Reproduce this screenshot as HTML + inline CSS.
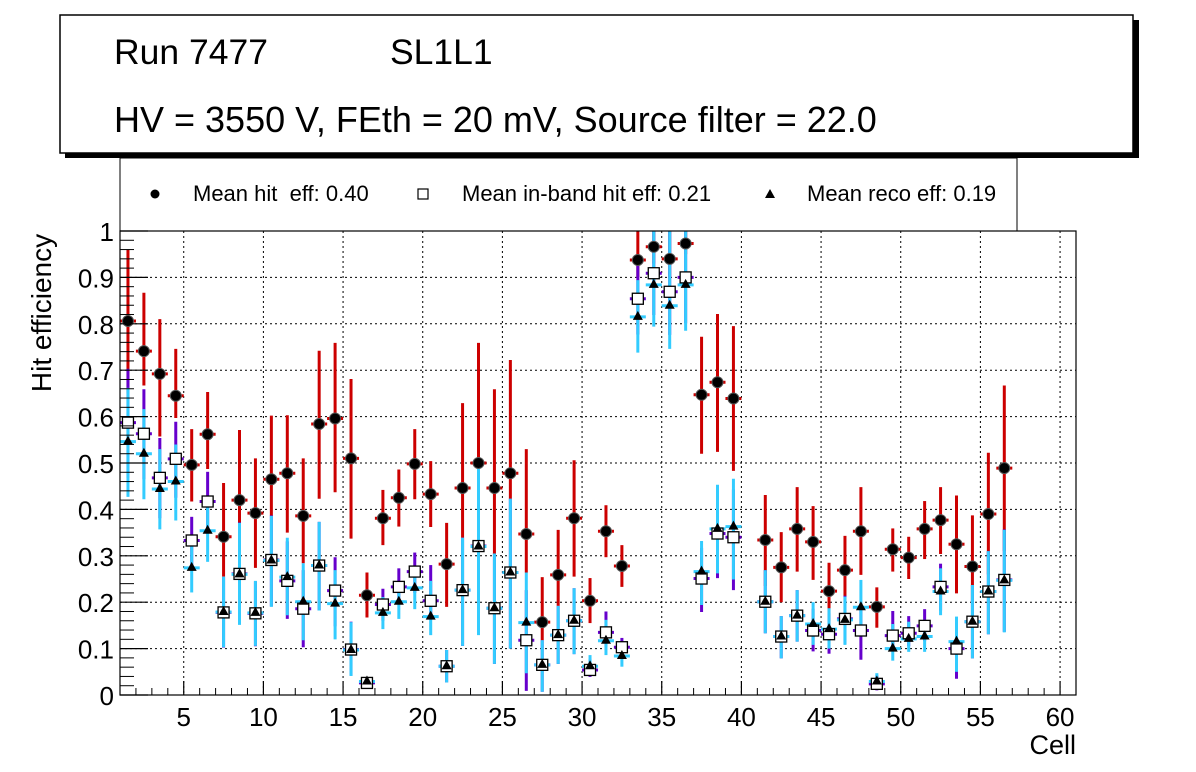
<!DOCTYPE html>
<html><head><meta charset="utf-8"><style>
body{margin:0;background:#fff;}
svg{display:block;font-family:"Liberation Sans",sans-serif;}
text{white-space:pre;}
</style></head><body>
<svg id="c" width="1196" height="772" viewBox="0 0 1196 772">
<rect x="65" y="20" width="1074" height="138" fill="#000"/>
<rect x="60" y="15" width="1073" height="138" fill="#fff" stroke="#000" stroke-width="1.5"/>
<text x="114" y="64" font-size="35.5">Run 7477</text>
<text x="390" y="64" font-size="35.5">SL1L1</text>
<text x="114" y="132" font-size="36">HV = 3550 V, FEth = 20 mV, Source filter = 22.0</text>
<rect x="120" y="158" width="897" height="73" fill="#fff" stroke="#000" stroke-width="1"/>
<g><circle cx="155" cy="194" r="4.5" fill="#000"/><text x="193" y="201" font-size="22" xml:space="preserve">Mean hit  eff: 0.40</text></g>
<g><rect x="418" y="189" width="10" height="10" fill="#fff" stroke="#000" stroke-width="1.2"/><text x="462" y="201" font-size="22">Mean in-band hit eff: 0.21</text></g>
<g><polygon points="770,189 775,198 765,198" fill="#000"/><text x="807" y="201" font-size="22">Mean reco eff: 0.19</text></g>
<g id="grid"></g><g id="marks"></g><g id="axes"></g>
<text x="1076" y="754" font-size="27" text-anchor="end">Cell</text>
<text transform="translate(51,313) rotate(-90)" font-size="28" text-anchor="middle">Hit efficiency</text>
</svg>
<script>
const hitVal=[0.806,0.741,0.692,0.645,0.496,0.562,0.341,0.42,0.392,0.465,0.478,0.386,0.584,0.596,0.51,0.215,0.381,0.425,0.498,0.433,0.282,0.446,0.5,0.446,0.478,0.347,0.157,0.259,0.381,0.203,0.353,0.278,0.9375,0.966,0.94,0.973,0.647,0.674,0.639,null,0.334,0.275,0.358,0.33,0.224,0.269,0.353,0.19,0.314,0.296,0.358,0.377,0.325,0.277,0.39,0.489];
const hitHi=[0.96,0.867,0.81,0.746,0.573,0.653,0.457,0.571,0.51,0.602,0.603,0.51,0.742,0.759,0.681,0.264,0.442,0.486,0.573,0.504,0.371,0.629,0.759,0.659,0.722,0.53,0.254,0.356,0.506,0.252,0.409,0.323,1.0,1.0,1.0,1.0,0.772,0.821,0.795,null,0.431,0.351,0.448,0.407,0.285,0.343,0.448,0.232,0.359,0.341,0.418,0.448,0.43,0.387,0.522,0.667];
const hitLo=[0.65,0.667,0.557,0.597,0.417,0.487,0.255,0.371,0.274,0.386,0.35,0.284,0.423,0.437,0.337,0.167,0.323,0.363,0.422,0.362,0.19,0.339,0.3,0.304,0.423,0.264,0.118,0.192,0.255,0.155,0.297,0.233,0.9,0.93,0.9,0.95,0.52,0.524,0.483,null,0.235,0.2,0.266,0.248,0.16,0.212,0.259,0.145,0.266,0.25,0.293,0.304,0.219,0.2,0.26,0.31];
const bandVal=[0.587,0.563,0.468,0.509,0.333,0.417,0.178,0.261,0.176,0.291,0.246,0.186,0.279,0.225,0.098,0.026,0.195,0.233,0.266,0.203,0.062,0.226,0.321,0.187,0.264,0.118,0.065,0.129,0.16,0.054,0.135,0.103,0.854,0.909,0.869,0.9,0.251,0.348,0.34,null,0.201,0.126,0.171,0.139,0.131,0.164,0.139,0.024,0.128,0.133,0.149,0.233,0.1,0.158,0.223,0.248];
const recoVal=[0.546,0.52,0.444,0.46,0.274,0.354,0.179,0.26,0.177,0.29,0.254,0.201,0.279,0.197,0.097,0.029,0.177,0.201,0.231,0.169,0.062,0.226,0.32,0.187,0.264,0.156,0.065,0.129,0.16,0.062,0.117,0.084,0.815,0.884,0.839,0.884,0.266,0.358,0.363,null,0.201,0.126,0.171,0.153,0.142,0.162,0.189,0.029,0.1,0.121,0.126,0.223,0.115,0.158,0.223,0.247];
const recoHi=[0.662,0.616,0.53,0.54,0.325,0.418,0.255,0.371,0.246,0.386,0.339,0.284,0.373,0.269,0.157,0.035,0.211,0.241,0.272,0.246,0.097,0.339,0.499,0.305,0.423,0.264,0.118,0.192,0.23,0.086,0.162,0.104,0.894,1.0,1.0,1.0,0.332,0.453,0.466,null,0.269,0.17,0.226,0.2,0.187,0.212,0.248,0.047,0.153,0.158,0.162,0.273,0.169,0.237,0.31,0.356];
const recoLo=[0.427,0.422,0.357,0.376,0.221,0.287,0.103,0.151,0.106,0.19,0.172,0.118,0.182,0.12,0.041,0.02,0.142,0.164,0.185,0.129,0.027,0.106,0.129,0.067,0.1,0.047,0.007,0.067,0.088,0.047,0.086,0.061,0.738,0.794,0.746,0.785,0.194,0.262,0.249,null,0.133,0.079,0.115,0.108,0.1,0.108,0.126,0.015,0.074,0.093,0.093,0.172,0.05,0.079,0.131,0.135];
const xTicks=[5,10,15,20,25,30,35,40,45,50,55,60];
const yTicks=[0,0.1,0.2,0.3,0.4,0.5,0.6,0.7,0.8,0.9,1];
const yTickLabels=["0","0.1","0.2","0.3","0.4","0.5","0.6","0.7","0.8","0.9","1"];

const L=120,R=1076,T=231,B=695;
const X=v=>L+(v-1)*(R-L)/60;
const Y=v=>B-Math.min(v,1)*(B-T);
const NS="http://www.w3.org/2000/svg";
function mk(tag,a,parent){const e=document.createElementNS(NS,tag);for(const k in a)e.setAttribute(k,a[k]);parent.appendChild(e);return e;}
const grid=document.getElementById('grid'),marks=document.getElementById('marks'),axes=document.getElementById('axes');
mk('rect',{x:L,y:T,width:R-L,height:B-T,fill:'none',stroke:'#000','stroke-width':1.2},axes);
xTicks.forEach(t=>{
  const g=mk('line',{x1:X(t),x2:X(t),y1:T,y2:B,stroke:'#000','stroke-width':1,'stroke-dasharray':'2,3'},grid);
  
  
  mk('line',{x1:X(t),x2:X(t),y1:B,y2:B-14,stroke:'#000','stroke-width':1.2},axes);
  const tx=mk('text',{x:X(t),y:B+31,'font-size':26,'text-anchor':'middle'},axes);tx.textContent=t;
  
  
});
for(let v=2;v<61;v++){if(v%5)mk('line',{x1:X(v),x2:X(v),y1:B,y2:B-7,stroke:'#000'},axes);}
yTicks.forEach((t,i)=>{
  if(t>0&&t<1){const g=mk('line',{x1:L,x2:R,y1:Y(t),y2:Y(t),stroke:'#000','stroke-width':1,'stroke-dasharray':'2,3'},grid);
  
  }
  mk('line',{x1:L,x2:L+28,y1:Y(t),y2:Y(t),stroke:'#000','stroke-width':1.2},axes);
  const tx=mk('text',{x:L-6,y:Y(t)+10,'font-size':26,'text-anchor':'end'},axes);tx.textContent=yTickLabels[i];
  
  
});
for(let k=1;k<50;k++){if(k%5)mk('line',{x1:L,x2:L+14,y1:Y(k/50),y2:Y(k/50),stroke:'#000'},axes);}
function bar(i,v,hi,lo,col){
  const cx=X(i+1.5);
  const g=mk('g',{},marks);
  mk('line',{x1:cx,x2:cx,y1:Y(hi),y2:Y(lo),stroke:col,'stroke-width':3},g);
  mk('line',{x1:cx-8,x2:cx+8,y1:Y(v),y2:Y(v),stroke:col,'stroke-width':3},g);
  return g;
}
hitVal.forEach((v,i)=>{if(v==null)return;const g=bar(i,v,hitHi[i],hitLo[i],'#cc0000');
  
  });
bandVal.forEach((v,i)=>{if(v==null)return;const d=recoHi[i]-recoVal[i],e=recoVal[i]-recoLo[i];
  const g=bar(i,v,v+d,Math.max(0,v-e),'#6600cc');
  
  });
recoVal.forEach((v,i)=>{if(v==null)return;const g=bar(i,v,recoHi[i],recoLo[i],'#33ccff');
  
  });
hitVal.forEach((v,i)=>{if(v==null)return;
  const c=mk('circle',{cx:X(i+1.5),cy:Y(v),r:5.5,fill:'#000',stroke:'#555','stroke-width':1},marks);
  
  });
bandVal.forEach((v,i)=>{if(v==null)return;
  const c=mk('rect',{x:X(i+1.5)-5.5,y:Y(v)-5.5,width:11,height:11,fill:'#fff',stroke:'#000','stroke-width':1.3},marks);
  
  });
recoVal.forEach((v,i)=>{if(v==null)return;const x=X(i+1.5),y=Y(v);
  const c=mk('polygon',{points:`${x},${y-6} ${x+5},${y+3} ${x-5},${y+3}`,fill:'#000'},marks);
  
  });
</script>
</body></html>
